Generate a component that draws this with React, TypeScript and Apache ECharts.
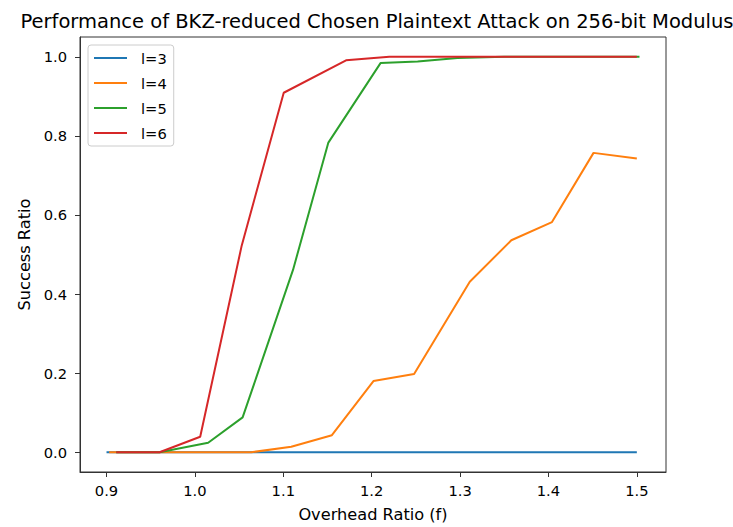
import React, { useEffect, useRef } from "react";
import * as echarts from "echarts";

const xTicks = [0.9, 1.0, 1.1, 1.2, 1.3, 1.4, 1.5];
const yTicks = [0.0, 0.2, 0.4, 0.6, 0.8, 1.0];

const l3X = [0.9, 0.95, 1.0, 1.05, 1.1, 1.15, 1.2, 1.25, 1.3, 1.35, 1.4, 1.45, 1.5];
const l3Y = [0, 0, 0, 0, 0, 0, 0, 0, 0, 0, 0, 0, 0];

const l4X = [0.903, 0.955, 1.01, 1.064, 1.109, 1.155, 1.202, 1.248, 1.311, 1.358, 1.404, 1.451, 1.5];
const l4Y = [0, 0, 0, 0, 0.014, 0.043, 0.18, 0.198, 0.431, 0.536, 0.582, 0.757, 0.743];

const l5X = [0.911, 0.96, 1.015, 1.054, 1.111, 1.151, 1.21, 1.252, 1.297, 1.35, 1.4, 1.45, 1.503];
const l5Y = [0, 0, 0.024, 0.088, 0.461, 0.783, 0.984, 0.988, 0.997, 1.0, 1.0, 1.0, 1.0];

const l6X = [0.911, 0.96, 1.006, 1.053, 1.1005, 1.171, 1.22, 1.27, 1.32, 1.36, 1.41, 1.45, 1.5];
const l6Y = [0, 0, 0.039, 0.523, 0.909, 0.991, 1.0, 1.0, 1.0, 1.0, 1.0, 1.0, 1.0];

const names = ["l=3", "l=4", "l=5", "l=6"];
const colors = ["#1f77b4", "#ff7f0e", "#2ca02c", "#d62728"];
const xs = [l3X, l4X, l5X, l6X];
const ys = [l3Y, l4Y, l5Y, l6Y];

const FONT = "DejaVu Sans";

export default function App() {
  const ref = useRef<HTMLDivElement>(null);
  useEffect(() => {
    if (!ref.current) return;
    const chart = echarts.init(ref.current, undefined, { renderer: "svg" });
    const axisCommon = {
      axisLine: { show: true, onZero: false, lineStyle: { color: "#333", width: 1 } },
      splitLine: { show: false },
    };
    chart.setOption({
      animation: false,
      backgroundColor: "#fff",
      title: {
        text: "Performance of BKZ-reduced Chosen Plaintext Attack on 256-bit Modulus",
        left: 372,
        textAlign: "center",
        top: 6,
        textStyle: { fontFamily: FONT, fontSize: 19.5, fontWeight: "normal", color: "#000" },
      },
      grid: { left: 80, top: 37, right: 67, bottom: 54, show: true, borderColor: "#333", borderWidth: 1 },
      legend: {
        orient: "vertical",
        left: 88,
        top: 45,
        data: names,
        icon: "rect",
        itemWidth: 33,
        itemHeight: 2,
        itemGap: 9,
        itemStyle: { borderWidth: 0 },
        padding: [5, 7, 5, 6],
        borderColor: "#ccc",
        borderWidth: 1,
        borderRadius: 3,
        backgroundColor: "rgba(255,255,255,0.8)",
        textStyle: { fontFamily: FONT, fontSize: 14.7, color: "#000", lineHeight: 16, padding: [0, 0, 0, 9] },
      },
      xAxis: {
        type: "value",
        min: 0.87,
        max: 1.533,
        ...axisCommon,
        axisTick: { show: true, inside: false, length: 5, customValues: xTicks, lineStyle: { color: "#333" } },
        axisLabel: {
          customValues: xTicks,
          formatter: (v: number) => v.toFixed(1),
          fontFamily: FONT,
          fontSize: 14.7,
          color: "#000",
          margin: 11,
        },
        name: "Overhead Ratio (f)",
        nameLocation: "middle",
        nameGap: 34,
        nameTextStyle: { fontFamily: FONT, fontSize: 16.2, color: "#000" },
      },
      yAxis: {
        type: "value",
        min: -0.05,
        max: 1.05,
        ...axisCommon,
        axisTick: { show: true, inside: false, length: 5, customValues: yTicks, lineStyle: { color: "#333" } },
        axisLabel: {
          customValues: yTicks,
          formatter: (v: number) => v.toFixed(1),
          fontFamily: FONT,
          fontSize: 14.7,
          color: "#000",
          margin: 13,
        },
        name: "Success Ratio",
        nameLocation: "middle",
        nameGap: 46,
        nameTextStyle: { fontFamily: FONT, fontSize: 16.2, color: "#000" },
      },
      series: names.map((n, i) => ({
        name: n,
        type: "line",
        data: xs[i].map((x, j) => [x, ys[i][j]]),
        showSymbol: false,
        symbol: "none",
        color: colors[i],
        lineStyle: { color: colors[i], width: 2 },
        itemStyle: { color: colors[i] },
        z: 2 + i,
      })),
    });
    return () => chart.dispose();
  }, []);
  return <div ref={ref} style={{ position: "absolute", left: 0, top: 0, width: 733, height: 527 }} />;
}
